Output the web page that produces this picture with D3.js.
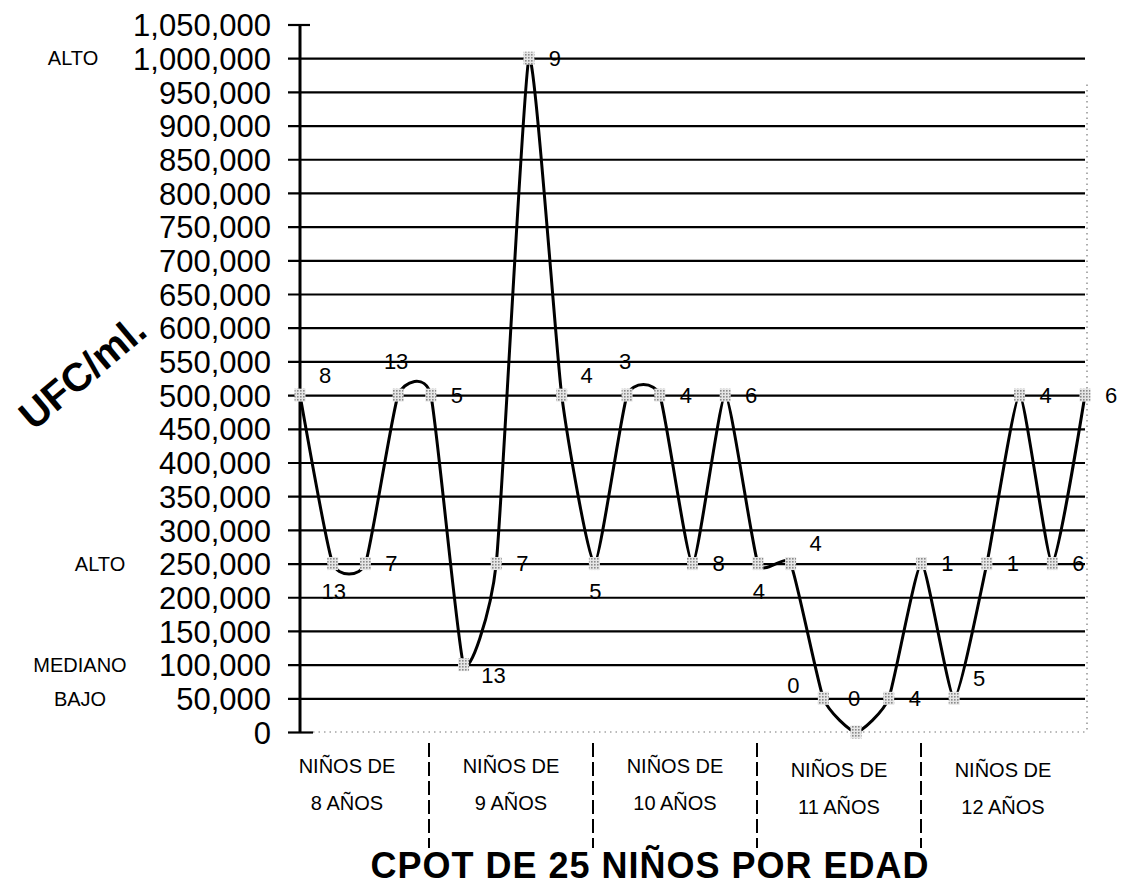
<!DOCTYPE html>
<html>
<head>
<meta charset="utf-8">
<script src="https://cdn.jsdelivr.net/npm/d3@7"></script>
<style>
  body { margin: 0; background: #fff; }
  svg { display: block; font-family: "Liberation Sans", Arial, sans-serif; }
</style>
</head>
<body>
<svg id="chart" width="1125" height="887"></svg>
<script>
// ---- data ----
const yTicks = d3.range(0, 1050001, 50000);
const values = [500000, 250000, 250000, 500000, 500000, 100000, 250000, 1000000, 500000, 250000,
                500000, 500000, 250000, 500000, 250000, 250000, 50000, 0, 50000, 250000,
                50000, 250000, 500000, 250000, 500000];
const counts = [8, 13, 7, 13, 5, 13, 7, 9, 4, 5, 3, 4, 8, 6, 4, 4, 0, 0, 4, 1, 5, 1, 4, 6, 6];
const groups = [['NIÑOS DE', '8 AÑOS'], ['NIÑOS DE', '9 AÑOS'], ['NIÑOS DE', '10 AÑOS'],
                ['NIÑOS DE', '11 AÑOS'], ['NIÑOS DE', '12 AÑOS']];
const levels = [{ v: 1000000, t: 'ALTO', x: 73 }, { v: 250000, t: 'ALTO', x: 100 },
                { v: 100000, t: 'MEDIANO', x: 80 }, { v: 50000, t: 'BAJO', x: 80 }];
// which side of the marker each count label sits on
const labelSide = ['ur', 'b', 'r', 'a', 'r', 'dr', 'r', 'r', 'ur', 'b', 'a', 'r', 'r', 'r', 'b',
                   'ur', 'ul', 'a', 'r', 'r', 'ur', 'r', 'r', 'r', 'r'];

const svg = d3.select('#chart');

// ---- scales ----
const y = d3.scaleLinear().domain([0, 1050000]).range([732, 24.5]);
const x = d3.scalePoint().domain(d3.range(values.length)).range([300, 1085]);
const band = d3.scaleBand().domain(groups.map((g, i) => i)).range([265, 1085]);

// marker texture
const pat = svg.append('defs').append('pattern')
  .attr('id', 'dots').attr('width', 3).attr('height', 3)
  .attr('patternUnits', 'userSpaceOnUse');
pat.append('rect').attr('width', 3).attr('height', 3).attr('fill', '#e6e6e6');
pat.append('rect').attr('width', 1.6).attr('height', 1.6).attr('fill', '#8a8a8a');

// ---- y axis with gridlines ----
const gridRight = 1085;
const yAxis = svg.append('g')
  .attr('transform', 'translate(288,0)')
  .call(d3.axisLeft(y).tickValues(yTicks)
    .tickSize(-(gridRight - 288)).tickPadding(17)
    .tickFormat(d3.format(',')));
yAxis.select('.domain').remove();
yAxis.selectAll('.tick line')
  .attr('stroke', '#000').attr('stroke-width', 2.2);
yAxis.selectAll('.tick text')
  .attr('fill', '#000').style('font-size', '31px').attr('dy', '0.36em');
// zero line: short solid tick + dotted baseline
yAxis.selectAll('.tick').filter(d => d === 0).select('line').attr('x2', 25);
yAxis.selectAll('.tick').filter(d => d === 1050000).select('line').attr('x2', 22);
svg.append('line')
  .attr('x1', 313).attr('x2', 1087).attr('y1', y(0)).attr('y2', y(0))
  .attr('stroke', '#777').attr('stroke-width', 1.2).attr('stroke-dasharray', '1.5 4');
svg.append('line')
  .attr('x1', 1087).attr('x2', 1087).attr('y1', y(1050000) + 60).attr('y2', y(0))
  .attr('stroke', '#777').attr('stroke-width', 1.2).attr('stroke-dasharray', '1.5 4');

// vertical axis line
svg.append('line')
  .attr('x1', 300).attr('x2', 300).attr('y1', y(1050000)).attr('y2', y(0))
  .attr('stroke', '#000').attr('stroke-width', 3);

// ---- level labels on the left ----
svg.append('g').selectAll('text').data(levels).join('text')
  .attr('x', d => d.x).attr('y', d => y(d.v)).attr('dy', '0.36em')
  .attr('text-anchor', 'middle').style('font-size', '20px')
  .text(d => d.t);

// y title
svg.append('text')
  .attr('transform', 'translate(82,372) rotate(-40)')
  .attr('text-anchor', 'middle').attr('dy', '0.36em')
  .style('font-size', '40px').style('font-weight', 'bold')
  .text('UFC/ml.');

// ---- smoothed line ----
const line = d3.line()
  .x((d, i) => x(i)).y(d => y(d))
  .curve(d3.curveCardinal.tension(0.5));
svg.append('path').datum(values)
  .attr('d', line).attr('fill', 'none')
  .attr('stroke', '#000').attr('stroke-width', 3);

// markers
svg.append('g').selectAll('rect').data(values).join('rect')
  .attr('x', (d, i) => x(i) - 5.5).attr('y', d => y(d) - 6.5)
  .attr('width', 11).attr('height', 13).attr('fill', 'url(#dots)');

// count labels
const offs = {
  r: [26, 0], ur: [25, -20], b: [1, 28], a: [-2, -34], ul: [-30, -13], dr: [30, 10]
};
svg.append('g').selectAll('text').data(counts).join('text')
  .attr('x', (d, i) => x(i) + offs[labelSide[i]][0])
  .attr('y', (d, i) => y(values[i]) + offs[labelSide[i]][1])
  .attr('dy', '0.36em').attr('text-anchor', 'middle')
  .style('font-size', '22px')
  .text(d => d);

// ---- category labels and separators ----
const cat = svg.append('g');
cat.selectAll('line').data(groups.slice(1)).join('line')
  .attr('x1', (d, i) => band(i + 1)).attr('x2', (d, i) => band(i + 1))
  .attr('y1', 743).attr('y2', 848)
  .attr('stroke', '#000').attr('stroke-width', 2).attr('stroke-dasharray', '14 5');
groups.forEach((g, i) => {
  const cx = band(i) + band.bandwidth() / 2;
  const t = cat.append('text').attr('text-anchor', 'middle').style('font-size', '20px');
  t.append('tspan').attr('x', cx).attr('y', i >= 3 ? 777 : 773).text(g[0]);
  t.append('tspan').attr('x', cx).attr('y', i >= 3 ? 814 : 810).text(g[1]);
});

// title
svg.append('text')
  .attr('x', 650).attr('y', 878).attr('text-anchor', 'middle')
  .style('font-size', '36px').style('font-weight', 'bold').style('letter-spacing', '1px')
  .text('CPOT DE 25 NIÑOS POR EDAD');
</script>
</body>
</html>
